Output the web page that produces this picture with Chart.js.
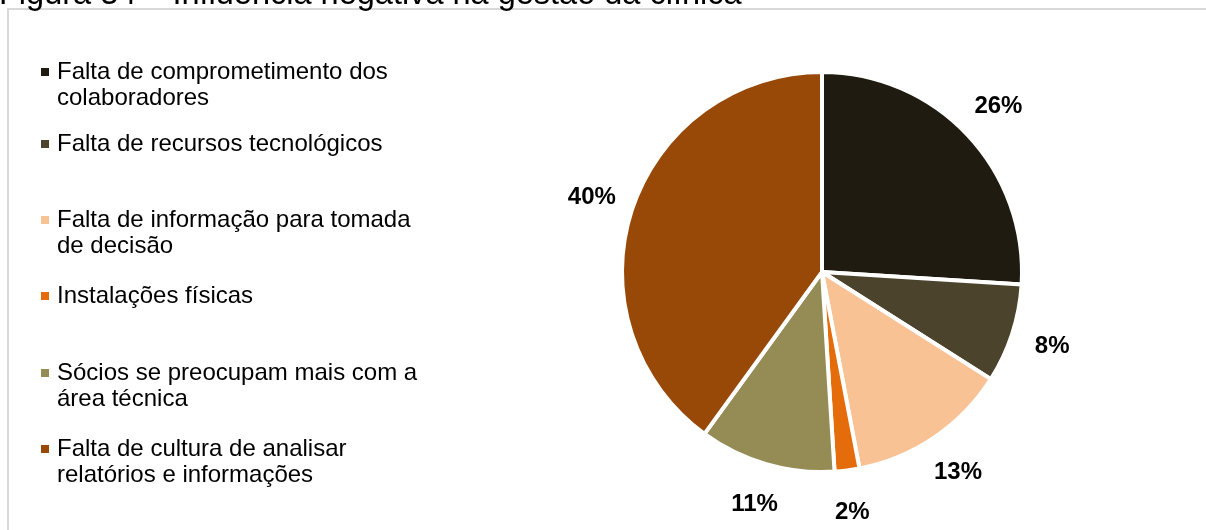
<!DOCTYPE html>
<html>
<head>
<meta charset="utf-8">
<script src="https://cdn.jsdelivr.net/npm/chart.js@4"></script>
<style>
  html, body { margin: 0; padding: 0; background: #fff; overflow: hidden; }
  #wrap { position: relative; width: 1206px; height: 530px; }
  #frame { position: absolute; left: 7px; top: 8px; width: 1300px; height: 600px; border: 2px solid #d9d9d9; box-sizing: border-box; }
  canvas { position: absolute; left: 0; top: 0; }
</style>
</head>
<body>
<div id="wrap">
  <div id="frame"></div>
  <canvas id="pieChart" width="1206" height="530"></canvas>
</div>
<script>
const chartTitle = 'Figura 34 – Influência negativa na gestão da clínica';

const categories = [
    ['Falta de comprometimento dos', 'colaboradores'],
    ['Falta de recursos tecnológicos'],
    ['Falta de informação para tomada', 'de decisão'],
    ['Instalações físicas'],
    ['Sócios se preocupam mais com a', 'área técnica'],
    ['Falta de cultura de analisar', 'relatórios e informações']
];

const percentages = [26, 8, 13, 2, 11, 40];

const sliceColors = ['#1f1b10', '#4b432c', '#f9c294', '#e46c0a', '#958b55', '#984807'];

// y of first text line of each legend entry (Excel spreads them unevenly)
const legendTops = [72, 144, 220, 296, 373, 449];

const overlayPlugin = {
    id: 'overlay',
    afterDraw(chart) {
        const ctx = chart.ctx;
        ctx.save();

        // title, cut off at the top of the picture
        ctx.fillStyle = '#000';
        ctx.font = '32.5px "Liberation Sans", Arial, sans-serif';
        ctx.textAlign = 'left';
        ctx.textBaseline = 'alphabetic';
        ctx.fillText(chartTitle, -1, 4);

        // legend
        ctx.font = '24px "Liberation Sans", Arial, sans-serif';
        ctx.textBaseline = 'middle';
        categories.forEach(function (lines, i) {
            const y = legendTops[i];
            ctx.fillStyle = sliceColors[i];
            ctx.fillRect(41, y - 4, 8, 8);
            ctx.fillStyle = '#000';
            lines.forEach(function (line, j) {
                ctx.fillText(line, 57, y + j * 26);
            });
        });

        // percentage labels outside the slices
        ctx.font = 'bold 24px "Liberation Sans", Arial, sans-serif';
        ctx.textAlign = 'center';
        const meta = chart.getDatasetMeta(0);
        meta.data.forEach(function (arc, i) {
            const p = arc.getProps(['x', 'y', 'startAngle', 'endAngle', 'outerRadius'], true);
            const mid = (p.startAngle + p.endAngle) / 2;
            const r = p.outerRadius + 42;
            ctx.fillStyle = '#000';
            ctx.fillText(percentages[i] + '%', p.x + Math.cos(mid) * r, p.y + Math.sin(mid) * r);
        });
        ctx.restore();
    }
};

new Chart(document.getElementById('pieChart').getContext('2d'), {
    type: 'pie',
    data: {
        labels: categories,
        datasets: [{
            data: percentages,
            backgroundColor: sliceColors,
            borderColor: '#ffffff',
            borderWidth: 4
        }]
    },
    options: {
        responsive: false,
        animation: false,
        layout: {
            padding: { left: 620, right: 182, top: 70, bottom: 56 }
        },
        plugins: {
            legend: { display: false },
            tooltip: { enabled: false },
            title: { display: false }
        }
    },
    plugins: [overlayPlugin]
});
</script>
</body>
</html>
